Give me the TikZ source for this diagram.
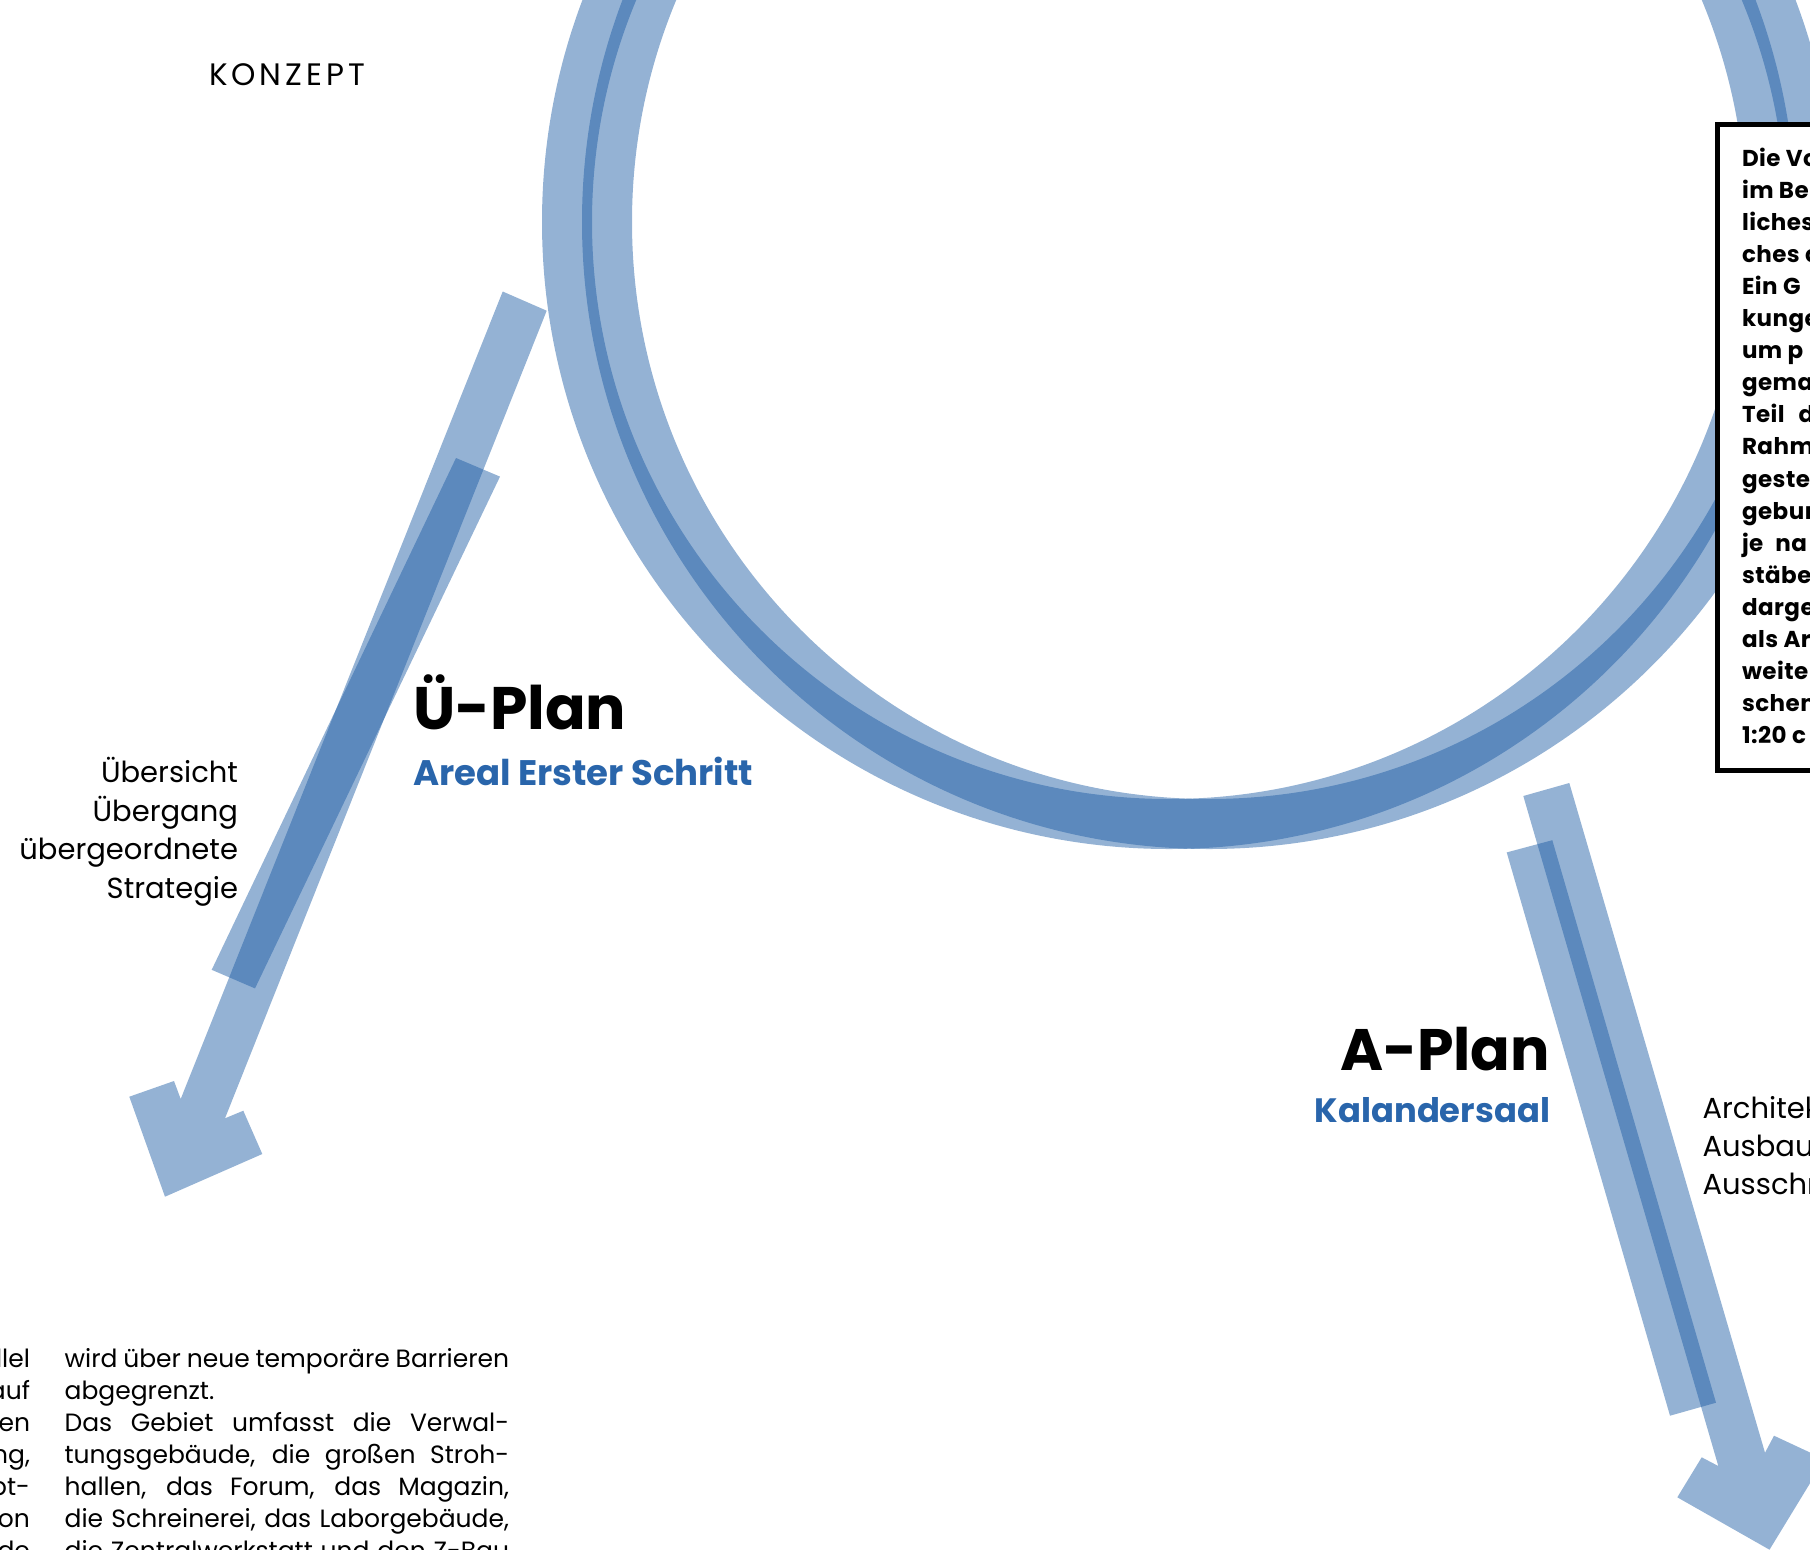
\documentclass[tikz,border=0pt]{standalone}
\usepackage{fontspec}
\setmainfont{Poppins}
\definecolor{bandblue}{RGB}{26,90,163}
\definecolor{textblue}{RGB}{41,101,171}
\newcommand\fBody{\fontsize{25}{32}\selectfont}
\newcommand\fLabel{\fontsize{29}{38}\selectfont}
\newcommand\fTitle{\fontsize{60}{64}\selectfont\bfseries}
\newcommand\fTitleB{\fontsize{58.5}{64}\selectfont\bfseries}
\newcommand\fSub{\fontsize{35.5}{40}\selectfont\bfseries}
\newcommand\fSubB{\fontsize{33.8}{40}\selectfont\bfseries}
\newcommand\fBox{\fontsize{23}{32}\selectfont\bfseries\addfontfeatures{LetterSpace=2}}
\newcommand\fKonz{\fontsize{31}{34}\selectfont\addfontfeatures{LetterSpace=13}}
\begin{document}
\begin{tikzpicture}[x=1pt,y=-1pt,
  band/.style={fill=bandblue,fill opacity=0.467,draw=none},
  ring/.style={draw=bandblue,draw opacity=0.467,line width=50pt},
  frame/.style={draw=black,line width=5pt,fill=white},
  txt/.style={inner sep=0pt,outer sep=0pt}]
\useasboundingbox (0,0) rectangle (1810,1550);
\clip (0,0) rectangle (1810,1550);
% rings
\coordinate (cL) at (1169,222);
\coordinate (cR) at (1209,222);
\draw[ring] (cL) circle[radius=602pt];
\draw[ring] (cR) circle[radius=602pt];
% left arrow
\fill[band] (502.7,291.5) -- (546.7,310.7) -- (225,1118.3) -- (243.3,1110.7) -- (262.3,1154) -- (165,1196.7) -- (129.3,1096.7) -- (174,1081) -- (180.7,1099) -- cycle;
\fill[band] (456,458) -- (500,476.6) -- (255,988.4) -- (211.7,969.8) -- cycle;
% right arrow
\fill[band] (1523.3,796) -- (1569.3,783) -- (1765,1452.7) -- (1774,1435.7) -- (1824.6,1459.3) -- (1769.5,1549.7) -- (1677.3,1497.3) -- (1701.7,1457.3) -- (1718.3,1466) -- cycle;
\fill[band] (1506.7,852.4) -- (1552.3,840.2) -- (1716,1402.7) -- (1670,1415.7) -- cycle;
% box
\draw[frame] (1717,124) rectangle (1850,770);
\foreach \t [count=\i from 0] in {Die Vo,im Be,liches,ches c,Ein G,kunge,um p,gema,Teil\hspace{14pt}d,Rahm,geste,gebur,je\hspace{12pt}na,stäbe,darge,als Ar,weite,schen,1:20 c}
  \node[txt,anchor=base west,font=\fBox] (box\i) at (1742,{166+32.1*\i}) {\t};
% titles
\node[txt,anchor=base west,font=\fKonz] (konzept) at (209,85.4) {KONZEPT};
\node[txt,anchor=base west,font=\fTitle] (uplan) at (413,729.5) {Ü-Plan};
\node[txt,anchor=base west,font=\fSub,text=textblue] (areal) at (413,785) {Areal Erster Schritt};
\node[txt,anchor=base east,font=\fTitleB] (aplan) at (1550,1070) {A-Plan};
\node[txt,anchor=base east,font=\fSubB,text=textblue] (kalander) at (1550,1122) {Kalandersaal};
% left labels
\foreach \t [count=\i from 0] in {Übersicht,Übergang,übergeordnete,Strategie}
  \node[txt,anchor=base east,font=\fLabel] (ul\i) at (238,{782.6+38.5*\i}) {\t};
% right labels
\foreach \t [count=\i from 0] in {Architektur,Ausbau,Ausschreibung}
  \node[txt,anchor=base west,font=\fLabel] (al\i) at (1702.6,{1118.5+38.1*\i}) {\t};
% bottom text column 2
\node[txt,anchor=base west,font=\fBody] (b0) at (64.6,1367) {\makebox[444.5pt][s]{wird über neue temporäre Barrieren}};
\node[txt,anchor=base west,font=\fBody] (b1) at (64.6,1399) {abgegrenzt.};
\foreach \t [count=\i from 2] in {Das Gebiet umfasst die Verwal-,{tungsgebäude, die großen Stroh-},{hallen, das Forum, das Magazin,},{die Schreinerei, das Laborgebäude,},die Zentralwerkstatt und den Z-Bau}
  \node[txt,anchor=base west,font=\fBody] (b\i) at (64.6,{1367+32*\i}) {\makebox[444.5pt][s]{\t}};
% bottom text column 1
\foreach \t [count=\i from 0] in {parallel,auf,den,{Richtung,},Haupt-,Station,Gebäude}
  \node[txt,anchor=base east,font=\fBody] (a\i) at (30,{1367+32*\i}) {\t};
\end{tikzpicture}
\end{document}
